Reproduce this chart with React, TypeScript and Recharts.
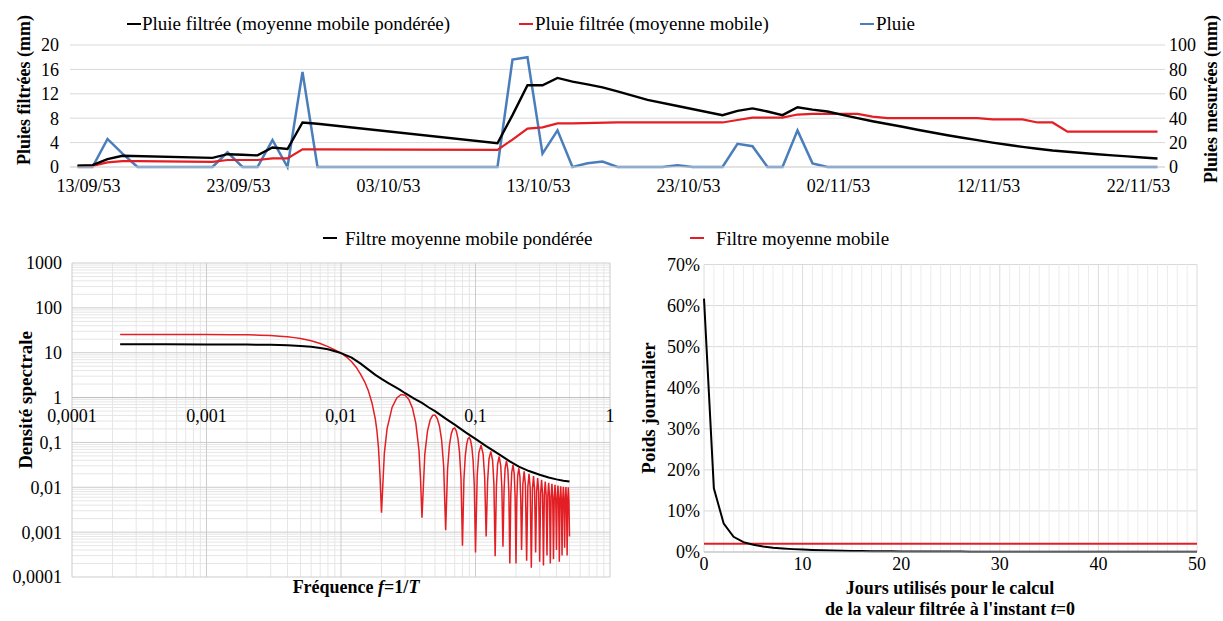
import React from "react";
import {
  LineChart,
  Line,
  XAxis,
  YAxis,
  CartesianGrid,
  ReferenceLine,
  ReferenceDot,
} from "recharts";

const FONT = "'Liberation Serif', 'Times New Roman', Times, serif";

// ---------- top chart: daily rainfall (day 0 = 12/09/53) ----------
const dateTicks = [1, 11, 21, 31, 41, 51, 61, 71];
const dateLabels = ["13/09/53", "23/09/53", "03/10/53", "13/10/53", "23/10/53", "02/11/53", "12/11/53", "22/11/53"];
const filtreTicks = [0, 4, 8, 12, 16, 20];
const mesureTicks = [0, 20, 40, 60, 80, 100];

const pluieJours = Array.from({ length: 73 }, (_, i) => i);
const pluieMm = [
  0, 0, 23, 11, 0, 0, 0, 0, 0, 0,
  12, 0, 0, 22, 0, 78, 0, 0, 0, 0,
  0, 0, 0, 0, 0, 0, 0, 0, 0, 88,
  90, 11, 30, 0, 3, 4.5, 0, 0, 0, 0,
  1.5, 0, 0, 0, 19, 17, 0, 0, 30, 3,
  0, 0, 0, 0, 0, 0, 0, 0, 0, 0,
  0, 0, 0, 0, 0, 0, 0, 0, 0, 0,
  0, 0, 0,
];

const ponderJours = [0, 1, 2, 3, 9, 10, 11, 12, 13, 14, 15, 16, 28, 29, 30, 31, 32, 33, 34, 35, 36, 38, 40, 43, 44, 45, 46, 47, 48, 49,
  50, 51, 52, 53, 54, 55, 56, 57, 58, 59, 60, 61, 62, 63, 64, 65, 66, 67, 68, 69, 70, 71, 72];
const ponderMm = [0.2, 0.3, 1.3, 1.85, 1.5, 2.1, 2.0, 1.9, 3.2, 2.95, 7.3, 7.1, 3.9, 8.5, 13.4, 13.4, 14.6, 14.0, 13.55, 13.05, 12.4, 11.0, 10.0, 8.5,
  9.2, 9.6, 9.1, 8.5, 9.8, 9.4,
  9.1, 8.55, 8.0, 7.5, 7.05, 6.6, 6.1, 5.65, 5.2, 4.8, 4.4, 4.0, 3.65, 3.3, 3.0, 2.7, 2.5, 2.3, 2.1, 1.9, 1.75, 1.55, 1.4];

const mobileJours = [0, 1, 2, 3, 4, 9, 10, 11, 12, 13, 14, 15, 16, 28, 29, 30, 31, 32, 33, 36, 43, 44, 45, 46, 47, 48, 49, 52, 53, 54, 60, 61, 63, 64, 65, 66, 72];
const mobileMm = [0.2, 0.2, 0.75, 0.95, 0.95, 0.85, 1.15, 1.15, 1.15, 1.4, 1.4, 2.9, 2.9, 2.8, 4.5, 6.3, 6.5, 7.15, 7.15, 7.3, 7.3,
  7.7, 8.1, 8.1, 8.1, 8.6, 8.7, 8.7, 8.25, 8.0, 8.0, 7.8, 7.8, 7.3, 7.3, 5.8, 5.8];

// ---------- bottom left: spectral density (log-log) ----------
const freqTicks = [0.0001, 0.001, 0.01, 0.1, 1];
const densTicks = [0.0001, 0.001, 0.01, 0.1, 1, 10, 100, 1000];

const freqPond = [0.000228, 0.0005, 0.001, 0.002, 0.003, 0.004, 0.005, 0.006, 0.007, 0.008, 0.009, 0.01, 0.012, 0.014, 0.016, 0.018,
  0.02, 0.0225, 0.025, 0.0275, 0.03, 0.035, 0.04, 0.045, 0.05, 0.06, 0.07, 0.085, 0.1, 0.12, 0.15, 0.18, 0.21, 0.25, 0.3, 0.35, 0.4, 0.45, 0.5];
const densPond = [15.4, 15.4, 15.3, 15.2, 15.0, 14.7, 14.2, 13.6, 12.8, 11.9, 10.8, 9.8, 7.8, 5.7, 4.2, 3.2,
  2.6, 2.1, 1.75, 1.48, 1.25, 0.95, 0.76, 0.6, 0.5, 0.34, 0.25, 0.165, 0.12, 0.083, 0.054, 0.038, 0.029, 0.023, 0.019, 0.0165, 0.015, 0.014, 0.0135];

const freqMob = [
  0.000228, 0.0004, 0.0007, 0.001, 0.0015, 0.002, 0.0025, 0.003, 0.0035, 0.004, 0.0045, 0.005, 0.006, 0.007, 0.008, 0.009,
  0.01, 0.011, 0.012, 0.013, 0.014, 0.015, 0.016, 0.017, 0.018, 0.0185, 0.019, 0.0195, 0.02,
  0.021, 0.022, 0.024, 0.026, 0.028, 0.03, 0.032, 0.034, 0.036, 0.038, 0.039, 0.04,
  0.042, 0.044, 0.046, 0.048, 0.05, 0.052, 0.054, 0.056, 0.058, 0.06,
  0.062, 0.064, 0.066, 0.068, 0.07, 0.072, 0.074, 0.076, 0.078, 0.08,
  0.082, 0.084, 0.086, 0.088, 0.09, 0.092, 0.094, 0.096, 0.098, 0.1,
  0.103, 0.106, 0.11, 0.114, 0.117, 0.12,
  0.123, 0.126, 0.13, 0.134, 0.137, 0.14,
  0.143, 0.146, 0.15, 0.154, 0.157, 0.16,
  0.163, 0.166, 0.17, 0.174, 0.177, 0.18,
  0.183, 0.186, 0.19, 0.194, 0.197, 0.2,
  0.203, 0.206, 0.21, 0.214, 0.217, 0.22,
  0.225, 0.23, 0.235, 0.24, 0.245, 0.25, 0.255, 0.26, 0.265, 0.27, 0.275, 0.28, 0.285, 0.29, 0.295, 0.3,
  0.305, 0.31, 0.315, 0.32, 0.325, 0.33, 0.335, 0.34, 0.345, 0.35, 0.355, 0.36, 0.365, 0.37, 0.375, 0.38,
  0.385, 0.39, 0.395, 0.4, 0.405, 0.41, 0.415, 0.42, 0.425, 0.43, 0.435, 0.44, 0.445, 0.45, 0.455, 0.46,
  0.465, 0.47, 0.475, 0.48, 0.485, 0.49, 0.495, 0.5,
];
const densMob = [
  25.6, 25.6, 25.5, 25.5, 25.3, 25.0, 24.6, 24.1, 23.4, 22.6, 21.7, 20.7, 18.5, 16.1, 13.7, 11.5,
  9.9, 8.0, 6.3, 4.7, 3.3, 2.25, 1.4, 0.76, 0.33, 0.18, 0.075, 0.018, 0.0027,
  0.057, 0.2, 0.61, 0.98, 1.17, 1.13, 0.9, 0.58, 0.27, 0.067, 0.016, 0.0021,
  0.055, 0.182, 0.316, 0.401, 0.409, 0.342, 0.23, 0.113, 0.029, 0.0011,
  0.0255, 0.0865, 0.1545, 0.201, 0.21, 0.18, 0.123, 0.0617, 0.0162, 0.0005,
  0.0147, 0.0507, 0.092, 0.1215, 0.1285, 0.111, 0.077, 0.039, 0.0104, 0.00035,
  0.0188, 0.0595, 0.087, 0.054, 0.0168, 0.0008,
  0.0136, 0.043, 0.063, 0.0395, 0.0123, 0.00029,
  0.0105, 0.033, 0.0485, 0.0305, 0.0096, 0.00047,
  0.0083, 0.0263, 0.0386, 0.0245, 0.0078, 0.0002,
  0.0068, 0.0216, 0.0317, 0.0202, 0.0064, 0.0002,
  0.0057, 0.0181, 0.0266, 0.017, 0.0054, 0.0004,
  0.0116, 0.0228, 0.0112, 0.00023, 0.0102, 0.02, 0.0098, 0.00016, 0.009, 0.0178, 0.0088, 0.00035, 0.0081, 0.016, 0.0079, 0.00022,
  0.0074, 0.0146, 0.0072, 0.00018, 0.0068, 0.0135, 0.0067, 0.0003, 0.0064, 0.0126, 0.0062, 0.0002, 0.006, 0.0119, 0.0059, 0.00025,
  0.0057, 0.0113, 0.0056, 0.0004, 0.0055, 0.0109, 0.0054, 0.00022, 0.0053, 0.0105, 0.0052, 0.0003, 0.0051, 0.0102, 0.0051, 0.00045,
  0.0051, 0.0101, 0.005, 0.0003, 0.005, 0.01, 0.005, 0.0008,
];

// ---------- bottom right: daily weights ----------
const joursPoids = Array.from({ length: 51 }, (_, i) => i);
const poidsPond = [
  0.617, 0.155, 0.069, 0.037, 0.024, 0.0175, 0.0135, 0.0105, 0.0085, 0.007,
  0.0058, 0.0049, 0.0042, 0.0036, 0.0031, 0.0027, 0.0024, 0.0021, 0.0019, 0.0017,
  0.0015, 0.0014, 0.0013, 0.0012, 0.0011, 0.001, 0.00095, 0.0009, 0.00085, 0.0008,
  0.00075, 0.0007, 0.0007, 0.00065, 0.00065, 0.0006, 0.0006, 0.00055, 0.00055, 0.0005,
  0.0005, 0.0005, 0.00045, 0.00045, 0.00045, 0.0004, 0.0004, 0.0004, 0.0004, 0.00035, 0.00035,
];
const poidsMob = [
  0.02, 0.02, 0.02, 0.02, 0.02, 0.02, 0.02, 0.02, 0.02, 0.02,
  0.02, 0.02, 0.02, 0.02, 0.02, 0.02, 0.02, 0.02, 0.02, 0.02,
  0.02, 0.02, 0.02, 0.02, 0.02, 0.02, 0.02, 0.02, 0.02, 0.02,
  0.02, 0.02, 0.02, 0.02, 0.02, 0.02, 0.02, 0.02, 0.02, 0.02,
  0.02, 0.02, 0.02, 0.02, 0.02, 0.02, 0.02, 0.02, 0.02, 0.02, 0.02,
];
const joursTicks = [0, 10, 20, 30, 40, 50];
const poidsTicks = [0, 0.1, 0.2, 0.3, 0.4, 0.5, 0.6, 0.7];

const BLACK = "#000000";
const RED = "#e31e24";
const BLUE = "#4a7ebb";

const zip = (xs: number[], ys: number[], k: string) => xs.map((x, i) => ({ [k]: x, v: ys[i] }));

const pluieData = zip(pluieJours, pluieMm, "day");
const ponderData = zip(ponderJours, ponderMm, "day");
const mobileData = zip(mobileJours, mobileMm, "day");
const specPond = zip(freqPond, densPond, "f");
const specMob = zip(freqMob, densMob, "f");
const poidsPondData = zip(joursPoids, poidsPond, "j");
const poidsMobData = zip(joursPoids, poidsMob, "j");

// log grid (minor lines 2..9 inside each decade)
function logGrid(decades: number[]) {
  const minor: number[] = [];
  decades.slice(0, -1).forEach((d) => {
    for (let m = 2; m <= 9; m++) minor.push(Number((m * d).toPrecision(3)));
  });
  return minor;
}
const freqMinor = logGrid(freqTicks);
const densMinor = logGrid(densTicks);

const comma = (v: number) => String(v).replace(".", ",");
const tickStyle = { fontSize: 18, fill: "#000", fontFamily: FONT };

const DateTick = (props: any) => {
  const { x, y, payload } = props;
  const i = dateTicks.indexOf(payload.value);
  return (
    <text x={x - 4} y={y + 17} textAnchor="middle" fontSize={18} fill="#000" fontFamily={FONT}>
      {dateLabels[i]}
    </text>
  );
};

function RainChart() {
  return (
    <LineChart width={1223} height={200} margin={{ top: 45, right: 0, bottom: 3, left: 0 }}>
      <CartesianGrid yAxisId="l" vertical={false} stroke="#d9d9d9" />
      <XAxis
        type="number"
        dataKey="day"
        domain={[-0.5, 72.5]}
        ticks={dateTicks}
        interval={0}
        tick={<DateTick />}
        tickLine={false}
        tickSize={0}
        tickMargin={8}
        height={30}
        axisLine={{ stroke: "#d9d9d9" }}
        allowDataOverflow
      />
      <YAxis yAxisId="l" domain={[0, 20]} ticks={filtreTicks} interval={0} width={70} tick={tickStyle} tickLine={false} axisLine={false} tickSize={0} tickMargin={11} />
      <YAxis yAxisId="r" orientation="right" domain={[0, 100]} ticks={mesureTicks} interval={0} width={58} tick={tickStyle} tickLine={false} axisLine={false} tickSize={0} tickMargin={4} />
      <Line yAxisId="r" data={pluieData} dataKey="v" stroke={BLUE} strokeWidth={2.5} dot={false} isAnimationActive={false} />
      <Line yAxisId="l" data={mobileData} dataKey="v" stroke={RED} strokeWidth={2.2} dot={false} isAnimationActive={false} />
      <Line yAxisId="l" data={ponderData} dataKey="v" stroke={BLACK} strokeWidth={2.4} dot={false} isAnimationActive={false} />
    </LineChart>
  );
}

function SpectrumChart() {
  return (
    <LineChart width={620} height={371} margin={{ top: 13, right: 10, bottom: 44, left: 0 }}>
      <XAxis type="number" dataKey="f" scale="log" domain={[0.0001, 1]} hide allowDataOverflow />
      <YAxis
        type="number"
        scale="log"
        domain={[0.0001, 1000]}
        ticks={densTicks}
        interval={0}
        tickFormatter={comma}
        width={72}
        tick={tickStyle}
        tickLine={false}
        axisLine={false}
        tickSize={0}
        tickMargin={10}
        allowDataOverflow
      />
      {freqMinor.map((v) => (
        <ReferenceLine key={"fx" + v} x={v} stroke="#e6e6e6" />
      ))}
      {densMinor.map((v) => (
        <ReferenceLine key={"dy" + v} y={v} stroke="#e6e6e6" />
      ))}
      {freqTicks.map((v) => (
        <ReferenceLine key={"FX" + v} x={v} stroke="#cccccc" />
      ))}
      {densTicks.map((v) => (
        <ReferenceLine key={"DY" + v} y={v} stroke="#cccccc" />
      ))}
      <ReferenceLine y={1} stroke="#bfbfbf" />
      {freqTicks.map((v) => (
        <ReferenceDot
          key={"lab" + v}
          x={v}
          y={1}
          r={0}
          fill="none"
          stroke="none"
          label={{ value: comma(v), position: "bottom", offset: 12, fontSize: 18, fill: "#000", fontFamily: FONT }}
        />
      ))}
      <Line data={specMob} dataKey="v" stroke={RED} strokeWidth={1.5} dot={false} isAnimationActive={false} />
      <Line data={specPond} dataKey="v" stroke={BLACK} strokeWidth={2} dot={false} isAnimationActive={false} />
    </LineChart>
  );
}

const joursMinor = joursPoids.filter((j) => j % 10 !== 0);

function WeightChart() {
  return (
    <LineChart width={603} height={371} margin={{ top: 14.5, right: 26, bottom: 44, left: 0 }}>
      {joursMinor.map((v) => (
        <ReferenceLine key={"jm" + v} x={v} stroke="#ececec" />
      ))}
      {joursTicks.map((v) => (
        <ReferenceLine key={"jM" + v} x={v} stroke="#dcdcdc" />
      ))}
      <CartesianGrid vertical={false} stroke="#d9d9d9" />
      <XAxis
        type="number"
        dataKey="j"
        domain={[0, 50]}
        ticks={joursTicks}
        interval={0}
        tick={tickStyle}
        tickLine={false}
        tickSize={0}
        tickMargin={5}
        height={25}
        axisLine={{ stroke: "#bfbfbf" }}
      />
      <YAxis
        domain={[0, 0.7]}
        ticks={poidsTicks}
        interval={0}
        tickFormatter={(v: number) => `${Math.round(v * 100)}%`}
        width={84}
        tick={tickStyle}
        tickLine={false}
        axisLine={false}
        tickSize={0}
        tickMargin={4}
      />
      <Line data={poidsMobData} dataKey="v" stroke={RED} strokeWidth={2} dot={false} isAnimationActive={false} />
      <Line data={poidsPondData} dataKey="v" stroke={BLACK} strokeWidth={2} dot={false} isAnimationActive={false} />
    </LineChart>
  );
}

function Overlay() {
  const leg = { fontSize: 19, fontFamily: FONT, fill: "#000" };
  const ttl = { fontSize: 18, fontFamily: FONT, fontWeight: 700, fill: "#000" };
  return (
    <svg width={1223} height={621} style={{ position: "absolute", left: 0, top: 0, pointerEvents: "none" }}>
      {/* top legend */}
      <line x1={127} y1={24} x2={141} y2={24} stroke={BLACK} strokeWidth={2} />
      <text x={142} y={30} {...leg}>Pluie filtrée (moyenne mobile pondérée)</text>
      <line x1={519} y1={24} x2={533} y2={24} stroke={RED} strokeWidth={2} />
      <text x={535} y={30} {...leg}>Pluie filtrée (moyenne mobile)</text>
      <line x1={860} y1={24} x2={874} y2={24} stroke={BLUE} strokeWidth={2} />
      <text x={876} y={30} {...leg}>Pluie</text>

      {/* top axis titles */}
      <text x={24} y={90} transform="rotate(-90 24 90)" textAnchor="middle" dominantBaseline="central" {...ttl}>
        Pluies filtrées (mm)
      </text>
      <text x={1211} y={99} transform="rotate(-90 1211 99)" textAnchor="middle" dominantBaseline="central" {...ttl}>
        Pluies mesurées (mm)
      </text>

      {/* bottom legend */}
      <line x1={323} y1={238} x2={337} y2={238} stroke={BLACK} strokeWidth={2} />
      <text x={345} y={245} {...leg}>Filtre moyenne mobile pondérée</text>
      <line x1={690} y1={238} x2={704} y2={238} stroke={RED} strokeWidth={2} />
      <text x={716} y={245} {...leg}>Filtre moyenne mobile</text>

      {/* bottom-left titles */}
      <text x={25} y={400} transform="rotate(-90 25 400)" textAnchor="middle" dominantBaseline="central" {...ttl} fontSize={19}>
        Densité spectrale
      </text>
      <text x={356} y={593} textAnchor="middle" {...ttl}>
        Fréquence <tspan fontStyle="italic">f</tspan>=1/<tspan fontStyle="italic">T</tspan>
      </text>

      {/* bottom-right titles */}
      <text x={648} y={408} transform="rotate(-90 648 408)" textAnchor="middle" dominantBaseline="central" {...ttl} fontSize={19}>
        Poids journalier
      </text>
      <text x={950} y={594} textAnchor="middle" {...ttl}>
        Jours utilisés pour le calcul
      </text>
      <text x={950} y={615} textAnchor="middle" {...ttl}>
        de la valeur filtrée à l'instant <tspan fontStyle="italic">t</tspan>=0
      </text>
    </svg>
  );
}

export default function App() {
  return (
    <div
      style={{
        position: "absolute",
        left: 0,
        top: 0,
        width: 1223,
        height: 621,
        background: "#fff",
        fontFamily: FONT,
        overflow: "hidden",
      }}
    >
      <div style={{ position: "absolute", left: 0, top: 0 }}>
        <RainChart />
      </div>
      <div style={{ position: "absolute", left: 0, top: 250 }}>
        <SpectrumChart />
      </div>
      <div style={{ position: "absolute", left: 620, top: 250 }}>
        <WeightChart />
      </div>
      <Overlay />
    </div>
  );
}
